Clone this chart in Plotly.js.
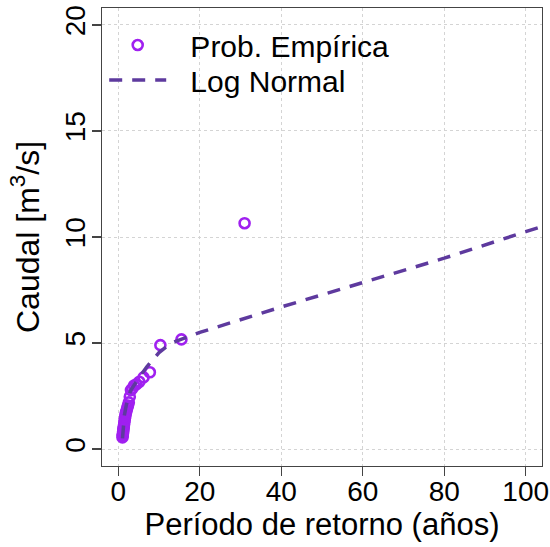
<!DOCTYPE html>
<html>
<head>
<meta charset="utf-8">
<script src="https://cdn.plot.ly/plotly-3.0.1.min.js"></script>
<style>html,body{margin:0;padding:0;background:#fff;}#chart{width:550px;height:547px;}</style>
</head>
<body>
<div id="chart"></div>
<script>
// Empirical probability points: return period (years) and discharge (m3/s)
const empiricalT = [31, 15.5, 10.33, 7.75, 6.2, 5.17, 4.43, 3.875, 3.44, 3.1, 2.82, 2.58, 2.38, 2.21, 2.07, 1.94, 1.82, 1.72, 1.63, 1.55, 1.48, 1.41, 1.35, 1.29, 1.24, 1.19, 1.15, 1.11, 1.07, 1.03];
const empiricalQ = [10.65, 5.17, 4.9, 3.62, 3.38, 3.17, 3.05, 3.0, 2.85, 2.78, 2.47, 2.2, 2.05, 1.95, 1.85, 1.75, 1.65, 1.55, 1.45, 1.35, 1.25, 1.15, 1.05, 0.98, 0.9, 0.82, 0.75, 0.68, 0.62, 0.55];

// Log Normal fitted curve
const lognormT = [1.03, 1.5, 2, 3, 5, 7, 10, 13, 20, 40, 60, 80, 100, 110];
const lognormQ = [0.5, 1.6, 2.1, 2.75, 3.35, 3.88, 4.55, 5.0, 5.5, 6.7, 7.85, 9.0, 10.25, 10.85];

const xTicks = [0, 20, 40, 60, 80, 100];
const yTicks = [0, 5, 10, 15, 20];

const labels = {
  empirical: 'Prob. Empírica',
  lognormal: 'Log Normal',
  xTitle: 'Período de retorno (años)',
  yTitle: 'Caudal [m<sup>3</sup>/s]'
};

const FONT = 'Liberation Sans, Arial, Helvetica, sans-serif';
const axisColor = '#444';
const gridColor = '#d4d4d4';
const GAP = '\u00a0\u00a0\u200a';

const traces = [
  {
    x: empiricalT, y: empiricalQ, type: 'scatter', mode: 'markers',
    name: GAP + labels.empirical, legend: 'legend',
    marker: {symbol: 'circle-open', size: 10, color: '#A020F0', line: {width: 2.6, color: '#A020F0'}}
  },
  {
    x: lognormT, y: lognormQ, type: 'scatter', mode: 'lines',
    name: GAP + labels.lognormal, legend: 'legend2',
    line: {color: '#5E3A9E', width: 3.5, dash: '13px,10px'}
  }
];

const legendCommon = {
  xanchor: 'left', yanchor: 'middle',
  bgcolor: 'rgba(0,0,0,0)', borderwidth: 0,
  font: {family: FONT, size: 30, color: '#000'},
  itemwidth: 57
};

const layout = {
  width: 550, height: 547,
  margin: {l: 102, r: 8, t: 8, b: 81},
  paper_bgcolor: '#fff', plot_bgcolor: '#fff',
  font: {family: FONT, color: '#000', size: 29},
  showlegend: true,
  legend: Object.assign({}, legendCommon, {x: 0.005, y: 1 - (45 - 8) / 458}),
  legend2: Object.assign({}, legendCommon, {x: 0.005, y: 1 - (80 - 8) / 458}),
  xaxis: {
    range: [-4, 104], tickvals: xTicks, ticktext: xTicks.map(String),
    showline: true, mirror: true, linecolor: axisColor, linewidth: 1.3,
    ticks: 'outside', ticklen: 9, tickwidth: 1.3, tickcolor: axisColor,
    ticklabelstandoff: -9,
    showgrid: true, gridcolor: gridColor, griddash: 'dot', gridwidth: 1,
    zeroline: false,
    tickfont: {family: FONT, size: 28, color: '#000'},
    title: {text: labels.xTitle, font: {family: FONT, size: 31, color: '#000'}, standoff: 4}
  },
  yaxis: {
    range: [-0.8, 20.8], tickvals: yTicks, ticktext: yTicks.map(String),
    showline: true, mirror: true, linecolor: axisColor, linewidth: 1.3,
    ticks: 'outside', ticklen: 9, tickwidth: 1.3, tickcolor: axisColor,
    ticklabelstandoff: -4,
    showgrid: true, gridcolor: gridColor, griddash: 'dot', gridwidth: 1,
    zeroline: false, tickangle: -90,
    tickfont: {family: FONT, size: 28, color: '#000'},
    title: {text: labels.yTitle, font: {family: FONT, size: 32, color: '#000'}, standoff: 10}
  }
};

Plotly.newPlot('chart', traces, layout, {displayModeBar: false, staticPlot: true});
</script>
</body>
</html>
